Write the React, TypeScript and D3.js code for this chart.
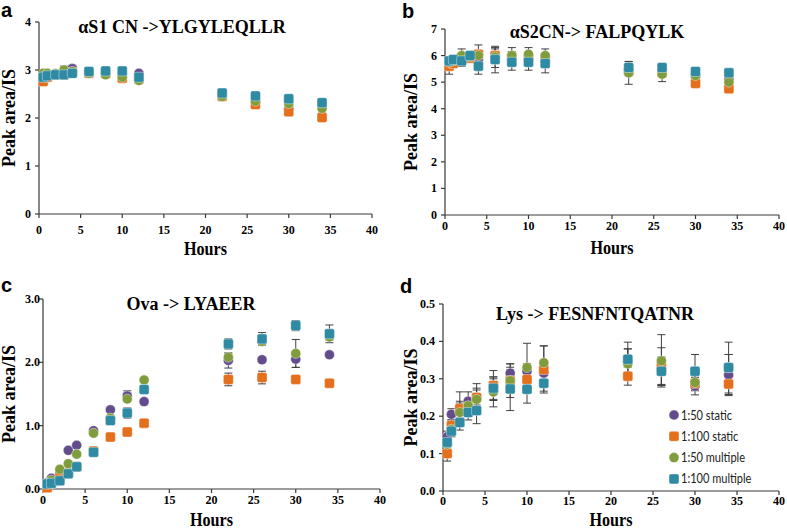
import React from "react";
import * as d3 from "d3";

const HOURS = [0.5, 1, 2, 3, 4, 6, 8, 10, 12, 22, 26, 30, 34];
const SERIES_NAMES = ["1:50 static", "1:100 static", "1:50 multiple", "1:100 multiple"];
const SERIES_COLORS = ["#634c8c", "#e4701e", "#7f9d3c", "#2f8aa3"];
const SERIES_SHAPES = ["circle", "square", "circle", "square"];
const X_TICKS = [0, 5, 10, 15, 20, 25, 30, 35, 40];

// Panel a: αS1 CN -> YLGYLEQLLR
const A_TICKS = [0, 1, 2, 3, 4];
const A_S50 = [2.85, 2.9, 2.92, 2.95, 3.03, 2.95, 2.95, 2.9, 2.93, 2.48, 2.35, 2.2, 2.05];
const A_S100 = [2.76, 2.85, 2.9, 2.9, 2.95, 2.93, 2.92, 2.83, 2.8, 2.45, 2.28, 2.13, 2.01];
const A_M50 = [2.93, 2.93, 2.92, 3.0, 2.97, 2.93, 2.9, 2.85, 2.78, 2.45, 2.35, 2.3, 2.2];
const A_M100 = [2.85, 2.88, 2.9, 2.9, 2.93, 2.97, 2.98, 2.98, 2.85, 2.52, 2.46, 2.4, 2.32];
const A_S50_ERR = [0.03, 0.03, 0.03, 0.04, 0.07, 0.03, 0.03, 0.03, 0.03, 0.03, 0.03, 0.03, 0.03];
const A_S100_ERR = [0.03, 0.03, 0.03, 0.03, 0.03, 0.03, 0.03, 0.03, 0.03, 0.03, 0.03, 0.03, 0.05];
const A_M50_ERR = [0.03, 0.03, 0.03, 0.08, 0.03, 0.03, 0.03, 0.03, 0.03, 0.03, 0.03, 0.03, 0.03];
const A_M100_ERR = [0.03, 0.03, 0.03, 0.03, 0.03, 0.03, 0.03, 0.03, 0.03, 0.03, 0.03, 0.03, 0.03];

// Panel b: αS2CN -> FALPQYLK
const B_TICKS = [0, 1, 2, 3, 4, 5, 6, 7];
const B_S50 = [5.7, 5.8, 5.9, 5.95, 5.85, 5.9, 5.9, 5.9, 5.95, 5.45, 5.4, 5.2, 5.1];
const B_S100 = [5.6, 5.7, 5.95, 5.9, 6.05, 6.0, 5.95, 5.9, 5.85, 5.4, 5.35, 4.95, 4.75];
const B_M50 = [5.75, 5.8, 6.0, 5.95, 6.0, 5.95, 6.0, 6.05, 6.0, 5.35, 5.3, 5.25, 5.0];
const B_M100 = [5.8, 5.85, 5.8, 6.0, 5.6, 5.85, 5.75, 5.75, 5.7, 5.55, 5.55, 5.4, 5.35];
const B_S50_ERR = [0.1, 0.1, 0.1, 0.1, 0.15, 0.35, 0.1, 0.1, 0.1, 0.15, 0.1, 0.1, 0.1];
const B_S100_ERR = [0.3, 0.1, 0.1, 0.1, 0.35, 0.3, 0.2, 0.15, 0.2, 0.15, 0.15, 0.05, 0.05];
const B_M50_ERR = [0.1, 0.1, 0.25, 0.1, 0.15, 0.15, 0.3, 0.25, 0.25, 0.43, 0.28, 0.05, 0.05];
const B_M100_ERR = [0.1, 0.1, 0.2, 0.15, 0.3, 0.5, 0.3, 0.3, 0.35, 0.22, 0.1, 0.15, 0.05];

// Panel c: Ova -> LYAEER
const C_TICKS = [0, 1, 2, 3];
const C_S50 = [0.1, 0.17, 0.25, 0.61, 0.69, 0.92, 1.25, 1.47, 1.38, 2.03, 2.04, 2.05, 2.12];
const C_S100 = [0.02, 0.1, 0.18, 0.25, 0.35, 0.6, 0.82, 0.9, 1.04, 1.73, 1.76, 1.73, 1.67];
const C_M50 = [0.08, 0.14, 0.31, 0.4, 0.55, 0.88, 1.12, 1.42, 1.72, 2.08, 2.33, 2.14, 2.4];
const C_M100 = [0.08, 0.09, 0.13, 0.24, 0.35, 0.58, 1.08, 1.2, 1.57, 2.29, 2.37, 2.58, 2.45];
const C_S50_ERR = [0.02, 0.02, 0.02, 0.03, 0.03, 0.03, 0.03, 0.08, 0.04, 0.12, 0.03, 0.13, 0.03];
const C_S100_ERR = [0.02, 0.02, 0.02, 0.02, 0.02, 0.03, 0.03, 0.03, 0.03, 0.1, 0.1, 0.03, 0.03];
const C_M50_ERR = [0.02, 0.02, 0.02, 0.02, 0.03, 0.03, 0.03, 0.03, 0.03, 0.05, 0.05, 0.22, 0.05];
const C_M100_ERR = [0.02, 0.02, 0.02, 0.02, 0.03, 0.03, 0.03, 0.08, 0.05, 0.08, 0.1, 0.08, 0.14];

// Panel d: Lys -> FESNFNTQATNR
const D_TICKS = [0, 0.1, 0.2, 0.3, 0.4, 0.5];
const D_S50 = [0.145, 0.205, 0.215, 0.24, 0.25, 0.28, 0.315, 0.32, 0.315, 0.345, 0.32, 0.28, 0.31];
const D_S100 = [0.1, 0.175, 0.22, 0.225, 0.25, 0.282, 0.295, 0.298, 0.325, 0.307, 0.333, 0.288, 0.286];
const D_M50 = [0.125, 0.165, 0.21, 0.228, 0.245, 0.265, 0.295, 0.33, 0.343, 0.34, 0.348, 0.29, 0.33];
const D_M100 = [0.13, 0.16, 0.183, 0.21, 0.215, 0.275, 0.273, 0.272, 0.288, 0.352, 0.32, 0.32, 0.33];
const D_S50_ERR = [0.015, 0.015, 0.02, 0.025, 0.02, 0.02, 0.025, 0.02, 0.02, 0.035, 0.038, 0.023, 0.055];
const D_S100_ERR = [0.02, 0.015, 0.045, 0.02, 0.037, 0.04, 0.045, 0.02, 0.063, 0.024, 0.05, 0.02, 0.028];
const D_M50_ERR = [0.015, 0.015, 0.03, 0.02, 0.03, 0.04, 0.03, 0.065, 0.045, 0.04, 0.07, 0.02, 0.035];
const D_M100_ERR = [0.015, 0.015, 0.02, 0.02, 0.035, 0.03, 0.058, 0.037, 0.021, 0.046, 0.035, 0.045, 0.068];

const SERIF = "'Liberation Serif', 'Times New Roman', serif";
const SANS = "'Liberation Sans', Arial, sans-serif";
const LEGEND_FONT = "Lato, 'Open Sans', sans-serif";
const AXIS_COLOR = "#3a3a3a";

type Panel = {
  letter: string;
  title: string;
  values: number[][];
  errors: number[][];
  yTicks: number[];
  fmt: string;
  left: number;
  right: number;
  bottom: number;
  top: number;
  letterX: number;
  letterY: number;
  titleX: number;
  titleY: number;
  yLabelX: number;
  xLabelY: number;
  xTickDy: number;
  yTickGap: number;
  legend: boolean;
};

const PANELS: Panel[] = [
  {
    letter: "a", title: "αS1 CN ->YLGYLEQLLR",
    values: [A_S50, A_S100, A_M50, A_M100], errors: [A_S50_ERR, A_S100_ERR, A_M50_ERR, A_M100_ERR],
    yTicks: A_TICKS, fmt: "d",
    left: 39, right: 372, bottom: 214, top: 22,
    letterX: 1, letterY: 17, titleX: 182, titleY: 33, yLabelX: 15, xLabelY: 255, xTickDy: 20, yTickGap: 8,
    legend: false,
  },
  {
    letter: "b", title: "αS2CN-> FALPQYLK",
    values: [B_S50, B_S100, B_M50, B_M100], errors: [B_S50_ERR, B_S100_ERR, B_M50_ERR, B_M100_ERR],
    yTicks: B_TICKS, fmt: "d",
    left: 445, right: 779, bottom: 215, top: 29,
    letterX: 402, letterY: 18, titleX: 597, titleY: 38, yLabelX: 417, xLabelY: 254, xTickDy: 15, yTickGap: 8,
    legend: false,
  },
  {
    letter: "c", title: "Ova -> LYAEER",
    values: [C_S50, C_S100, C_M50, C_M100], errors: [C_S50_ERR, C_S100_ERR, C_M50_ERR, C_M100_ERR],
    yTicks: C_TICKS, fmt: ".1f",
    left: 43, right: 380, bottom: 489, top: 299,
    letterX: 1, letterY: 292, titleX: 191, titleY: 310, yLabelX: 15, xLabelY: 526, xTickDy: 15, yTickGap: 3,
    legend: false,
  },
  {
    letter: "d", title: "Lys -> FESNFNTQATNR",
    values: [D_S50, D_S100, D_M50, D_M100], errors: [D_S50_ERR, D_S100_ERR, D_M50_ERR, D_M100_ERR],
    yTicks: D_TICKS, fmt: ".1f",
    left: 443, right: 779, bottom: 491, top: 304,
    letterX: 400, letterY: 293, titleX: 595, titleY: 320, yLabelX: 417, xLabelY: 526, xTickDy: 14, yTickGap: 8,
    legend: true,
  },
];

function Marker({ shape, x, y, color, size }: { shape: string; x: number; y: number; color: string; size: number }) {
  if (shape === "circle") {
    return <circle cx={x} cy={y} r={size / 2} fill={color} stroke="#ffffff" strokeOpacity={0.5} strokeWidth={0.8} />;
  }
  return (
    <rect x={x - size / 2} y={y - size / 2} width={size} height={size} rx={2} fill={color}
      stroke="#ffffff" strokeOpacity={0.5} strokeWidth={0.8} />
  );
}

function PanelView({ p }: { p: Panel }) {
  const x = d3.scaleLinear().domain([0, 40]).range([p.left, p.right]);
  const yMax = p.yTicks[p.yTicks.length - 1];
  const y = d3.scaleLinear().domain([0, yMax]).range([p.bottom, p.top]);
  const fmt = d3.format(p.fmt);
  const cx = (p.left + p.right) / 2;
  const cy = (p.top + p.bottom) / 2;
  const size = 10;

  return (
    <g>
      <text x={p.letterX} y={p.letterY} fontFamily={SANS} fontWeight="bold" fontSize={20} fill="#000">{p.letter}</text>
      <text x={p.titleX} y={p.titleY} textAnchor="middle" fontFamily={SERIF} fontWeight="bold" fontSize={18} fill="#000">{p.title}</text>
      <line x1={p.left} x2={p.left} y1={p.top} y2={p.bottom} stroke={AXIS_COLOR} strokeWidth={1.2} />
      <line x1={p.left} x2={p.right} y1={p.bottom} y2={p.bottom} stroke={AXIS_COLOR} strokeWidth={1.2} />
      {p.yTicks.map((t) => (
        <g key={"y" + t}>
          <line x1={p.left - 4} x2={p.left} y1={y(t)} y2={y(t)} stroke={AXIS_COLOR} strokeWidth={1.2} />
          <text x={p.left - p.yTickGap} y={y(t) + 4} textAnchor="end" fontFamily={SERIF} fontWeight="bold" fontSize={12} fill="#000">{fmt(t)}</text>
        </g>
      ))}
      {X_TICKS.map((t) => (
        <g key={"x" + t}>
          <line x1={x(t)} x2={x(t)} y1={p.bottom} y2={p.bottom + 4} stroke={AXIS_COLOR} strokeWidth={1.2} />
          <text x={x(t)} y={p.bottom + p.xTickDy} textAnchor="middle" fontFamily={SERIF} fontWeight="bold" fontSize={12} fill="#000">{t}</text>
        </g>
      ))}
      <text x={cx} y={p.xLabelY} textAnchor="middle" fontFamily={SERIF} fontWeight="bold" fontSize={19}
        textLength={43} lengthAdjust="spacingAndGlyphs" fill="#000">Hours</text>
      <text transform={`translate(${p.yLabelX},${cy}) rotate(-90)`} textAnchor="middle" fontFamily={SERIF}
        fontWeight="bold" fontSize={18} fill="#000">Peak area/IS</text>
      {p.values.map((vals, si) => (
        <g key={"e" + si}>
          {vals.map((v, i) => {
            const e = p.errors[si][i];
            const px = x(HOURS[i]);
            return (
              <g key={i}>
                <line x1={px} x2={px} y1={y(v - e)} y2={y(v + e)} stroke="#404040" strokeWidth={1} />
                <line x1={px - 4} x2={px + 4} y1={y(v - e)} y2={y(v - e)} stroke="#404040" strokeWidth={1} />
                <line x1={px - 4} x2={px + 4} y1={y(v + e)} y2={y(v + e)} stroke="#404040" strokeWidth={1} />
              </g>
            );
          })}
        </g>
      ))}
      {p.values.map((vals, si) => (
        <g key={"m" + si}>
          {vals.map((v, i) => (
            <Marker key={i} shape={SERIES_SHAPES[si]} x={x(HOURS[i])} y={y(v)} color={SERIES_COLORS[si]} size={size} />
          ))}
        </g>
      ))}
      {p.legend && (
        <g>
          {SERIES_NAMES.map((name, si) => {
            const ly = 415 + si * 21.3;
            return (
              <g key={name}>
                <Marker shape={SERIES_SHAPES[si]} x={674} y={ly} color={SERIES_COLORS[si]} size={size} />
                <text transform={`translate(681,${ly + 4.5}) scale(0.85,1)`} fontFamily={LEGEND_FONT} fontSize={13} fill="#222">{name}</text>
              </g>
            );
          })}
        </g>
      )}
    </g>
  );
}

export default function App() {
  return (
    <svg width={787} height={529} style={{ position: "absolute", left: 0, top: 0, background: "#fff" }}>
      <rect x={0} y={0} width={787} height={529} fill="#ffffff" />
      {PANELS.map((p) => (
        <PanelView key={p.letter} p={p} />
      ))}
    </svg>
  );
}
